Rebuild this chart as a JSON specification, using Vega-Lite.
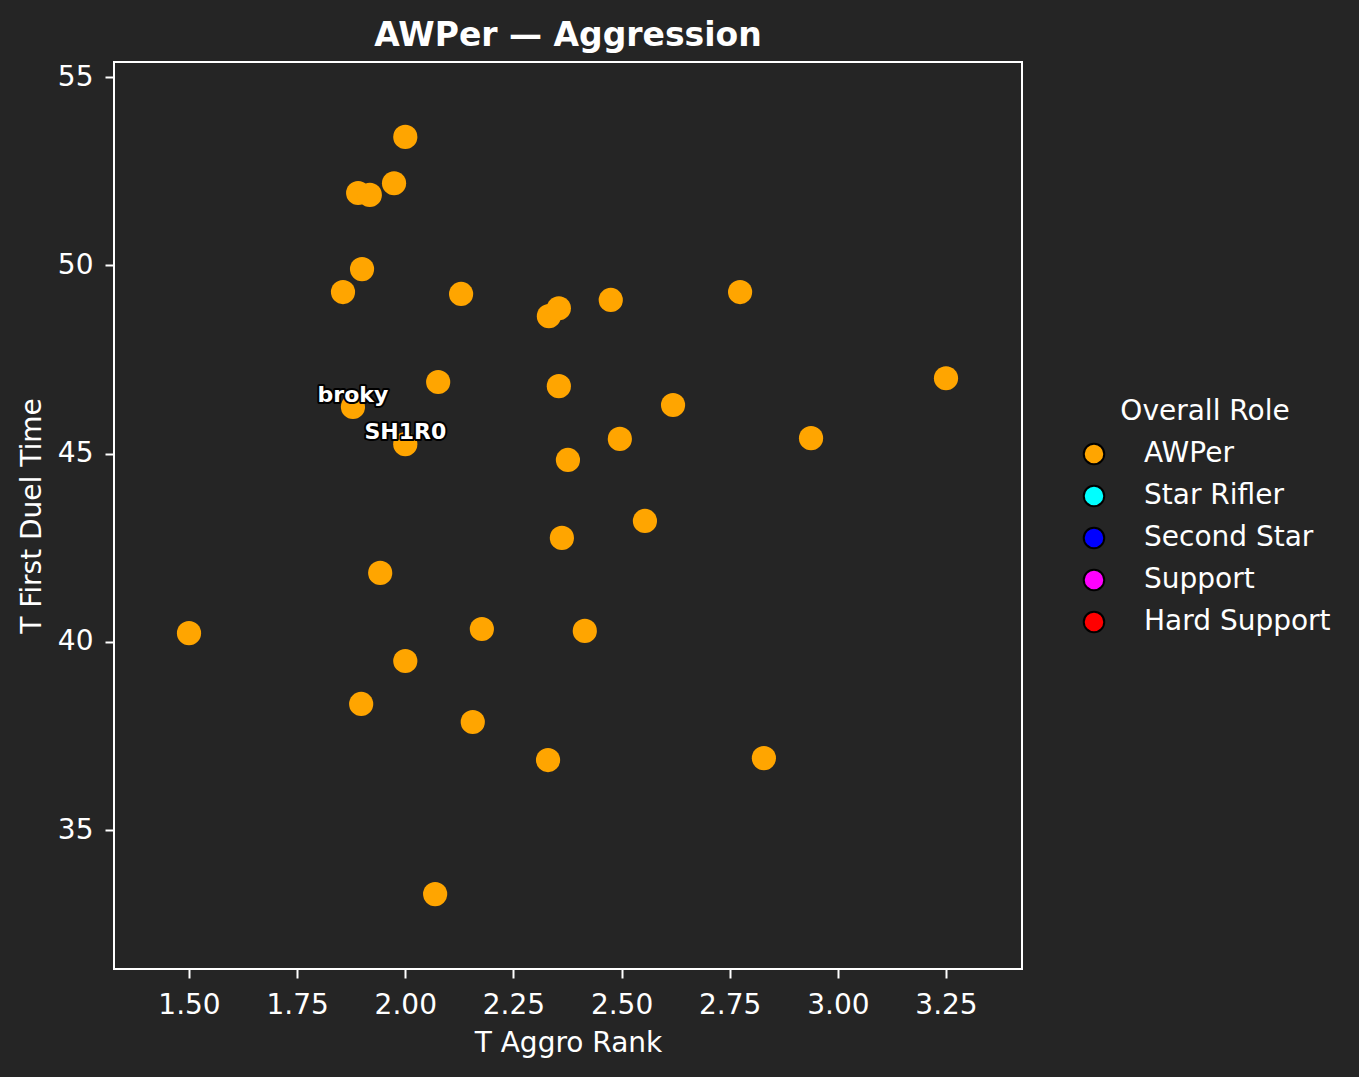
{
  "$schema": "https://vega.github.io/schema/vega-lite/v6.json",
  "autosize": "none",
  "padding": {"left": 114, "top": 62, "right": 337, "bottom": 108},
  "width": 908,
  "height": 907,
  "background": "#252525",
  "title": {
    "text": "AWPer — Aggression",
    "font": "DejaVu Sans",
    "fontSize": 33,
    "fontWeight": "bold",
    "color": "white",
    "anchor": "middle",
    "frame": "group",
    "baseline": "bottom",
    "offset": 8,
    "dy": 32
  },
  "config": {
    "font": "DejaVu Sans",
    "view": {"stroke": "white", "strokeWidth": 2, "fill": "#252525"},
    "axis": {
      "grid": false,
      "domain": false,
      "tickColor": "white",
      "tickWidth": 2,
      "tickSize": 9,
      "labelColor": "white",
      "labelFont": "DejaVu Sans",
      "labelFontSize": 28,
      "titleColor": "white",
      "titleFont": "DejaVu Sans",
      "titleFontSize": 28,
      "titleFontWeight": "normal"
    }
  },
  "data": {
    "values": [
      {"x": 2.0, "y": 53.41, "role": "AWPer", "player": ""},
      {"x": 1.891, "y": 51.92, "role": "AWPer", "player": ""},
      {"x": 1.918, "y": 51.87, "role": "AWPer", "player": ""},
      {"x": 1.974, "y": 52.18, "role": "AWPer", "player": ""},
      {"x": 1.9, "y": 49.9, "role": "AWPer", "player": ""},
      {"x": 1.856, "y": 49.29, "role": "AWPer", "player": ""},
      {"x": 2.129, "y": 49.24, "role": "AWPer", "player": ""},
      {"x": 2.332, "y": 48.65, "role": "AWPer", "player": ""},
      {"x": 2.355, "y": 48.86, "role": "AWPer", "player": ""},
      {"x": 2.475, "y": 49.08, "role": "AWPer", "player": ""},
      {"x": 2.774, "y": 49.29, "role": "AWPer", "player": ""},
      {"x": 2.076, "y": 46.9, "role": "AWPer", "player": ""},
      {"x": 2.355, "y": 46.79, "role": "AWPer", "player": ""},
      {"x": 3.25, "y": 47.0, "role": "AWPer", "player": ""},
      {"x": 2.619, "y": 46.29, "role": "AWPer", "player": ""},
      {"x": 1.879, "y": 46.24, "role": "AWPer", "player": "broky"},
      {"x": 2.0, "y": 45.25, "role": "AWPer", "player": "SH1R0"},
      {"x": 2.496, "y": 45.39, "role": "AWPer", "player": ""},
      {"x": 2.938, "y": 45.41, "role": "AWPer", "player": ""},
      {"x": 2.376, "y": 44.83, "role": "AWPer", "player": ""},
      {"x": 2.554, "y": 43.21, "role": "AWPer", "player": ""},
      {"x": 2.362, "y": 42.76, "role": "AWPer", "player": ""},
      {"x": 1.942, "y": 41.83, "role": "AWPer", "player": ""},
      {"x": 1.5, "y": 40.23, "role": "AWPer", "player": ""},
      {"x": 2.177, "y": 40.34, "role": "AWPer", "player": ""},
      {"x": 2.415, "y": 40.29, "role": "AWPer", "player": ""},
      {"x": 2.0, "y": 39.49, "role": "AWPer", "player": ""},
      {"x": 1.898, "y": 38.35, "role": "AWPer", "player": ""},
      {"x": 2.156, "y": 37.87, "role": "AWPer", "player": ""},
      {"x": 2.33, "y": 36.86, "role": "AWPer", "player": ""},
      {"x": 2.829, "y": 36.91, "role": "AWPer", "player": ""},
      {"x": 2.069, "y": 33.3, "role": "AWPer", "player": ""}
    ]
  },
  "encoding": {
    "x": {
      "field": "x",
      "type": "quantitative",
      "title": "T Aggro Rank",
      "scale": {"domain": [1.3266, 3.4257], "nice": false, "zero": false},
      "axis": {"values": [1.5, 1.75, 2.0, 2.25, 2.5, 2.75, 3.0, 3.25], "format": ".2f", "labelPadding": 13, "titlePadding": 10}
    },
    "y": {
      "field": "y",
      "type": "quantitative",
      "title": "T First Duel Time",
      "scale": {"domain": [31.31, 55.4], "nice": false, "zero": false},
      "axis": {"values": [35, 40, 45, 50, 55], "labelPadding": 12, "titlePadding": 11}
    }
  },
  "layer": [
    {
      "mark": {"type": "circle", "size": 585, "opacity": 1},
      "encoding": {
        "color": {
          "field": "role",
          "type": "nominal",
          "title": "Overall Role",
          "scale": {
            "domain": ["AWPer", "Star Rifler", "Second Star", "Support", "Hard Support"],
            "range": ["#FFA500", "#00FFFF", "#0000FF", "#FF00FF", "#FF0000"]
          },
          "legend": {
            "orient": "none",
            "legendX": 966,
            "legendY": 336,
            "padding": 0,
            "symbolType": "circle",
            "symbolSize": 420,
            "symbolStrokeColor": "black",
            "symbolStrokeWidth": 2,
            "symbolOpacity": 1,
            "labelColor": "white",
            "labelFont": "DejaVu Sans",
            "labelFontSize": 28,
            "labelLimit": 400,
            "labelOffset": 36,
            "rowPadding": 12,
            "titleColor": "white",
            "titleFont": "DejaVu Sans",
            "titleFontSize": 28,
            "titleFontWeight": "normal",
            "titleAnchor": "middle",
            "titlePadding": 14
          }
        }
      }
    },
    {
      "transform": [{"filter": "datum.player != ''"}],
      "mark": {
        "type": "text",
        "font": "DejaVu Sans",
        "fontSize": 22,
        "fontWeight": "bold",
        "align": "center",
        "baseline": "alphabetic",
        "dy": -5,
        "fill": "black",
        "stroke": "black",
        "strokeWidth": 4,
        "strokeJoin": "round"
      },
      "encoding": {"text": {"field": "player"}}
    },
    {
      "transform": [{"filter": "datum.player != ''"}],
      "mark": {
        "type": "text",
        "font": "DejaVu Sans",
        "fontSize": 22,
        "fontWeight": "bold",
        "align": "center",
        "baseline": "alphabetic",
        "dy": -5,
        "fill": "white"
      },
      "encoding": {"text": {"field": "player"}}
    }
  ]
}
